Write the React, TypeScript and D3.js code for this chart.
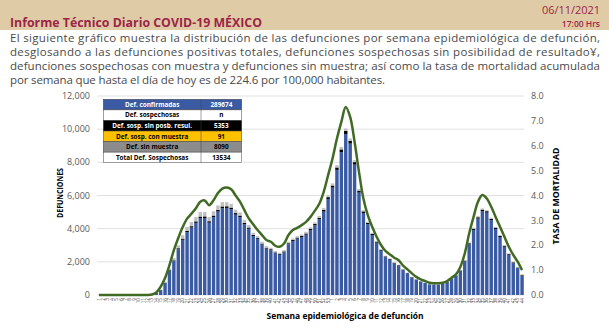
import React from "react";
import * as d3 from "d3";

// ---- Data ----
const weeks2020 = [1,2,3,4,5,6,7,8,9,10,11,12,13,14,15,16,17,18,19,20,21,22,23,24,25,26,27,28,29,30,31,32,33,34,35,36,37,38,39,40,41,42,43,44,45,46,47,48,49,50,51,52,53];
const weeks2021 = [1,2,3,4,5,6,7,8,9,10,11,12,13,14,15,16,17,18,19,20,21,22,23,24,25,26,27,28,29,30,31,32,33,34,35,36,37,38,39,40,41,42,43,44];
const weekLabels = [...weeks2020, ...weeks2021].map(String);

// Def. confirmadas (blue)
const confirmed = [0,0,0,0,0,0,0,0,0,0,0,
  5,40,135,290,720,1465,2045,2760,3330,3790,4065,4350,4635,4645,4360,4695,5030,5240,5250,5170,4845,4700,4270,3995,3555,3370,3045,2800,2710,2525,2425,2580,
  3065,3260,3400,3495,3640,3905,4200,4570,5030,5790,6475,7545,8615,9710,9130,7865,6175,4945,4270,3620,3160,2675,2285,2135,1905,1765,1505,1305,1060,915,810,713,636,618,618,678,773,965,1155,1455,2035,3060,3924,4604,5054,4964,4514,3983,3497,2910,2422,1928,1625,1180];
// Def. sosp. sin posib. resul. (black)
const sinPosib = [0,0,0,0,0,0,0,0,0,0,0,0,0,
  5,10,20,35,45,60,70,80,85,90,
  95,95,90,95,100,100,100,100,95,90,
  80,75,65,60,55,50,50,45,45,50,
  55,60,60,65,70,75,80,90,100,110,
  125,145,165,180,170,145,115,95,80,70,
  60,50,45,40,35,35,30,25,20,20,
  15,15,12,12,12,12,15,20,25,30,
  40,60,75,85,95,90,85,75,65,55,
  45,40,30,25];
// Def. sosp. con muestra (orange)
const conMuestra = [0,0,0,0,0,0,0,0,0,0,0,0,0,0,0,0,0,0,0,0,0,0,0,0,0,0,0,0,0,0,0,0,0,0,0,0,0,0,0,0,0,0,0,0,0,0,0,0,0,0,0,0,0,0,0,0,0,0,0,0,0,0,0,0,0,0,0,0,0,0,0,0,0,0,0,0,0,0,0,0,0,0,0,0,0,
  1,1,1,1,1,2,3,5,8,12,20,35];
// Def. sin muestra (gray)
const sinMuestra = [0,0,0,0,0,0,0,0,0,0,0,0,0,
  10,30,60,100,140,180,200,230,250,260,
  270,260,250,260,270,260,250,230,210,190,
  170,150,130,120,110,100,90,80,80,80,
  90,90,90,90,100,100,100,110,110,120,
  130,140,150,150,140,120,100,80,70,60,
  50,45,40,35,30,30,25,20,20,15,
  15,12,12,10,10,10,12,15,20,25,
  35,50,60,70,70,65,60,50,45,40,
  35,30,25,20];
// Tasa de mortalidad (green line, right axis)
const tasa = [0,0,0,0,0,0,0,0,0,0,0,0,
  0.02,0.1,0.33,0.68,1.2,1.8,2.29,2.73,3.07,3.27,
  3.49,3.75,3.8,3.61,3.81,4.1,4.28,4.32,4.25,4.0,
  3.75,3.41,3.08,2.84,2.61,2.41,2.21,2.14,1.98,1.94,
  2.07,2.41,2.61,2.7,2.81,2.94,3.14,3.39,3.67,4.15,
  4.82,5.49,6.29,6.96,7.56,7.16,6.16,4.95,3.88,3.21,
  2.74,2.34,2.01,1.77,1.63,1.5,1.4,1.18,1.03,0.87,
  0.73,0.63,0.56,0.49,0.47,0.47,0.49,0.56,0.69,0.83,
  1.13,1.67,2.47,3.14,3.75,4.02,3.88,3.55,3.14,2.74,
  2.34,1.94,1.61,1.34,1.0];

const leftTicks = [0, 2000, 4000, 6000, 8000, 10000, 12000];
const rightTicks = [0, 1, 2, 3, 4, 5, 6, 7, 8];

const tableLabels = ["Def. confirmadas", "Def. sospechosas", "Def. sosp. sin posb. resul.", "Def. sosp. con  muestra", "Def. sin muestra", "Total Def. Sospechosas"];
const tableValues = ["289674", "n", "5353", "91", "8090", "13534"];

const paragraph = [
  "El siguiente gráfico muestra la distribución de las defunciones por semana epidemiológica de defunción,",
  "desglosando a las defunciones positivas totales, defunciones sospechosas sin posibilidad de resultado¥,",
  "defunciones sospechosas con muestra y defunciones sin muestra; así como la tasa de mortalidad acumulada",
  "por semana que hasta el día de hoy es de 224.6 por 100,000 habitantes.",
];

// ---- Styles ----
const W = 609, H = 328;
const FONT = "'Open Sans', 'Noto Sans', sans-serif";
const MAROON = "#9d2449";
const seriesKeys = ["confirmed", "sinPosib", "conMuestra", "sinMuestra"];
const seriesColors: Record<string, string> = {
  confirmed: "#3a5ba4",
  sinPosib: "#000000",
  conMuestra: "#ffc000",
  sinMuestra: "#c0c0c0",
};
const tableFill = ["#3a5ba4", "#ffffff", "#000000", "#ffc000", "#8c8c8c", "#ffffff"];
const tableText = ["#ffffff", "#000000", "#ffffff", "#000000", "#000000", "#000000"];

export default function App() {
  const idx = weekLabels.map((_, i) => i);
  const x = d3.scaleBand<number>().domain(idx).range([97, 524]).paddingInner(0.22).paddingOuter(0.05);
  const y = d3.scaleLinear().domain([0, 12000]).range([295, 96]);
  const yR = d3.scaleLinear().domain([0, 8]).range([295, 96]);

  const rows = idx.map((i) => ({
    i,
    confirmed: confirmed[i],
    sinPosib: sinPosib[i],
    conMuestra: conMuestra[i],
    sinMuestra: sinMuestra[i],
  }));
  const stacked = d3.stack<any>().keys(seriesKeys)(rows);

  const line = d3
    .line<number>()
    .x((_, i) => (x(i) as number) + x.bandwidth() / 2)
    .y((d) => yR(d))
    .curve(d3.curveCatmullRom.alpha(0.5));

  const tX0 = 103.3, tX1 = 201, tX2 = 241.7, tY0 = 99.3, rowH = 10.57;

  return (
    <svg width={W} height={H} style={{ position: "absolute", left: 0, top: 0, background: "#fff" }} fontFamily={FONT}>
      {/* header */}
      <rect x={0} y={0} width={W} height={30} fill="#dfcca6" />
      <text x={10} y={27} fontSize={13} fontWeight={700} fill={MAROON} textLength={252} lengthAdjust="spacingAndGlyphs">
        Informe Técnico Diario COVID-19 MÉXICO
      </text>
      <text x={600} y={13.5} fontSize={11.5} fill={MAROON} textAnchor="end" textLength={58} lengthAdjust="spacingAndGlyphs">06/11/2021</text>
      <text x={600} y={27} fontSize={8.5} fontWeight={600} fill={MAROON} textAnchor="end">17:00 Hrs</text>
      {paragraph.map((t, k) => (
        <text key={k} x={10} y={42 + k * 14} fontSize={11.5} fill="#4a4a4a"
          textLength={k < 3 ? 590 : 375} lengthAdjust="spacing">
          {t}
        </text>
      ))}

      {/* grid */}
      {leftTicks.map((t) => (
        <line key={t} x1={97} x2={524} y1={y(t)} y2={y(t)} stroke="#d9d9d9" strokeWidth={0.8} />
      ))}

      {/* bars */}
      {stacked.map((s) => (
        <g key={s.key} fill={seriesColors[s.key]}>
          {s.map((d, i) =>
            d[1] - d[0] > 0 ? (
              <rect key={i} x={x(i)} width={x.bandwidth()} y={y(d[1])} height={y(d[0]) - y(d[1])} />
            ) : null
          )}
        </g>
      ))}

      {/* line */}
      <path d={line(tasa) || ""} fill="none" stroke="#416b25" strokeWidth={2.5} strokeLinejoin="round" />

      {/* left axis labels */}
      {leftTicks.map((t) => (
        <text key={t} x={90} y={y(t)} dy="0.35em" fontSize={9} fill="#595959" textAnchor="end">
          {d3.format(",")(t)}
        </text>
      ))}
      {/* right axis labels */}
      {rightTicks.map((t) => (
        <text key={t} x={531} y={yR(t)} dy="0.35em" fontSize={9} fill="#595959" textAnchor="start">
          {d3.format(".1f")(t)}
        </text>
      ))}

      {/* x tick labels */}
      {weekLabels.map((l, i) => (
        <text key={i} transform={`translate(${(x(i) as number) + x.bandwidth() / 2 + 1.6},298) rotate(-90)`}
          fontSize={4.6} fill="#404040" textAnchor="end">
          {l}
        </text>
      ))}

      {/* axis titles */}
      <text transform="translate(63,193) rotate(-90)" fontSize={8.5} fontWeight={700} fill="#000" textAnchor="middle"
        textLength={50} lengthAdjust="spacingAndGlyphs">DEFUNCIONES</text>
      <text transform="translate(559,196) rotate(-90)" fontSize={8.5} fontWeight={700} fill="#000" textAnchor="middle"
        textLength={97} lengthAdjust="spacingAndGlyphs">TASA DE MORTALIDAD</text>
      <text x={345} y={319} fontSize={9} fontWeight={700} fill="#000" textAnchor="middle"
        textLength={157} lengthAdjust="spacingAndGlyphs">Semana epidemiológica de defunción</text>

      {/* table */}
      {tableLabels.map((lab, k) => {
        const ty = tY0 + k * rowH;
        return (
          <g key={k}>
            <rect x={tX0} y={ty} width={tX2 - tX0} height={rowH} fill={tableFill[k]} stroke="#404040" strokeWidth={0.5} />
            <line x1={tX1} x2={tX1} y1={ty} y2={ty + rowH} stroke="#404040" strokeWidth={0.5} />
            <text x={(tX0 + tX1) / 2} y={ty + rowH / 2} dy="0.35em" fontSize={6.4} fontWeight={700} fill={tableText[k]} textAnchor="middle">
              {lab}
            </text>
            <text x={(tX1 + tX2) / 2} y={ty + rowH / 2} dy="0.35em" fontSize={6.4} fontWeight={700} fill={tableText[k]} textAnchor="middle">
              {tableValues[k]}
            </text>
          </g>
        );
      })}
    </svg>
  );
}
